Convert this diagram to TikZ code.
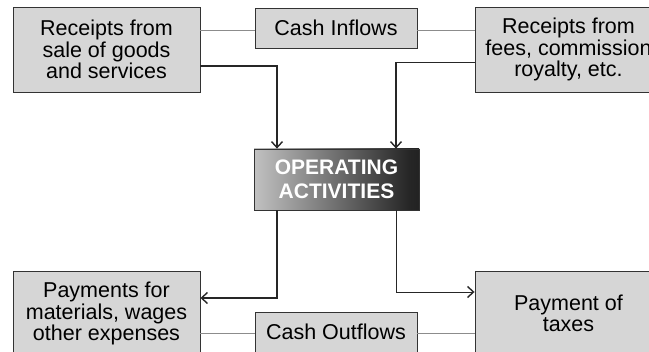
\documentclass[tikz,border=0pt]{standalone}
\usepackage{fontspec}
\setmainfont{Liberation Sans}
\usetikzlibrary{arrows.meta,shadows}
% light-to-dark fill of the central box
\pgfdeclarehorizontalshading{opshade}{100bp}{color(0bp)=(black!45); color(6bp)=(white); color(72bp)=(black!85); color(100bp)=(black)}

\begin{document}
\begin{tikzpicture}[x=1pt,y=-1pt,
  box/.style={draw=black!80, line width=0.9pt, fill=black!16,
    minimum width=187pt, minimum height=85pt, align=center, inner sep=0pt,
    font=\fontsize{21.5}{21.5}\selectfont,
    drop shadow={shadow xshift=1.3pt, shadow yshift=-1.3pt, fill=black!75, opacity=1}},
  tag/.style={box, minimum width=162pt, minimum height=40pt},
  opbox/.style={draw=black!80, line width=0.8pt, shading=opshade,
    minimum width=165pt, minimum height=61pt, align=center, inner sep=0pt,
    text=white, font=\fontsize{21}{24}\selectfont\bfseries},
  link/.style={draw=black!45, line width=0.6pt},
  flow/.style={draw=black!85, line width=1.3pt, -{Straight Barb[length=6pt,width=11pt,line width=1.4pt]}}
]
\useasboundingbox (0,0) rectangle (649,352);
\clip (0,0) rectangle (649,352);

% boxes
\node[box] (sale) at (106.5,49.5) {Receipts from\\sale of goods\\and services};
\node[box] (fees) at (568.5,49.5) {Receipts from\\fees, commission\\royalty, etc.};
\node[tag] (inflow) at (336,28) {Cash Inflows};
\node[opbox] (op) at (336.5,179.5) {OPERATING\\ACTIVITIES};
\node[box] (pay) at (106.5,313.5) {Payments for\\materials, wages\\other expenses};
\node[box] (tax) at (568.5,313.5) {Payment of\\taxes};
\node[tag] (outflow) at (336,332) {Cash Outflows};

% thin links to the headings
\draw[link] ([yshift=-2pt]inflow.west) -- ([yshift=-2pt]inflow.west -| sale.east);
\draw[link] ([yshift=-2pt]inflow.east) -- ([yshift=-2pt]inflow.east -| fees.west);
\draw[link] ([yshift=-1pt]outflow.west) -- ([yshift=-1pt]outflow.west -| pay.east);
\draw[link] ([yshift=-1pt]outflow.east) -- ([yshift=-1pt]outflow.east -| tax.west);

% flows into and out of operating activities
\draw[flow] ([yshift=-16.5pt]sale.east) -| ([xshift=-59.5pt]op.north);
\draw[flow] ([yshift=-13pt]fees.west) -| ([xshift=59.5pt]op.north);
\draw[flow] ([xshift=-59.5pt]op.south) |- ([yshift=15.5pt]pay.east);
\draw[flow, line width=0.9pt] ([xshift=59.5pt]op.south) |- ([yshift=21.5pt]tax.west);
\end{tikzpicture}
\end{document}
